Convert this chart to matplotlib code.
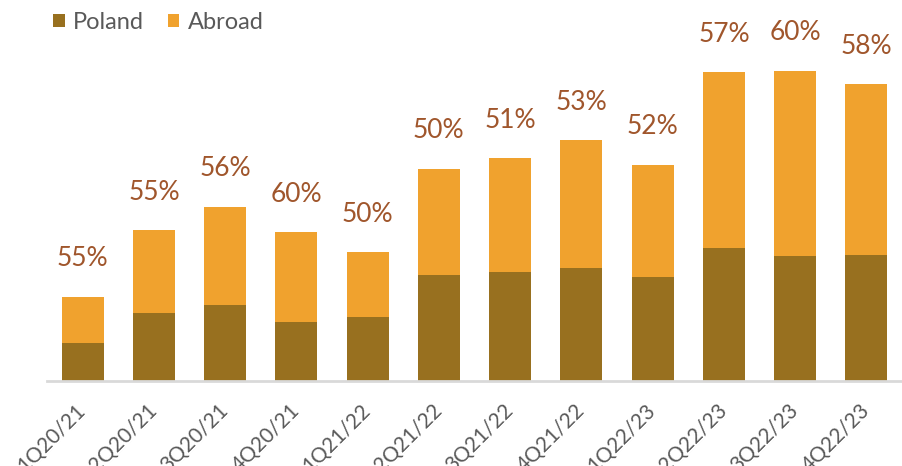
import matplotlib
matplotlib.use("Agg")
import matplotlib.pyplot as plt
import numpy as np

plt.rcParams['font.family'] = ['Lato', 'DejaVu Sans']

# quarters and values
quarters = ['1Q20/21', '2Q20/21', '3Q20/21', '4Q20/21', '1Q21/22', '2Q21/22',
            '3Q21/22', '4Q21/22', '1Q22/23', '2Q22/23', '3Q22/23', '4Q22/23']
poland = [38, 68, 76, 59, 64, 106, 109, 113, 104, 133, 125, 126]
abroad = [46, 83, 98, 90, 65, 106, 114, 128, 112, 176, 185, 171]
share_labels = ['55%', '55%', '56%', '60%', '50%', '50%', '51%', '53%', '52%', '57%', '60%', '58%']

c_pl = '#98701F'
c_ab = '#F0A22E'
c_txt = '#595959'
c_pct = '#A0562C'

fig = plt.figure(figsize=(9.02, 4.66), dpi=100)
ax = fig.add_axes([47/902, 85/466, 1 - 47/902, 381/466])

x = np.arange(len(quarters))
ax.bar(x, poland, width=0.59, color=c_pl, label='Poland')
ax.bar(x, abroad, width=0.59, bottom=poland, color=c_ab, label='Abroad')

totals = np.array(poland) + np.array(abroad)
for xi, t, lab in zip(x, totals, share_labels):
    ax.text(xi, t + 38, lab, ha='center', va='center', fontsize=19, color=c_pct)

ax.set_xlim(-0.5, len(quarters) - 0.5)
ax.set_ylim(0, 381)
ax.set_yticks([])
for s in ['top', 'right', 'left']:
    ax.spines[s].set_visible(False)
ax.spines['bottom'].set_color('#D9D9D9')
ax.spines['bottom'].set_linewidth(2)

ax.set_xticks(x)
ax.set_xticklabels(quarters, rotation=45, ha='right', va='center',
                   rotation_mode='anchor', fontsize=15, color=c_txt)
ax.tick_params(axis='x', length=0, pad=19)

leg = fig.legend(loc='upper left', bbox_to_anchor=(0.035, 1.02), ncol=2, frameon=False,
                 fontsize=17, handlelength=0.5, handleheight=0.5, handletextpad=0.35,
                 columnspacing=1.0)
for t in leg.get_texts():
    t.set_color(c_txt)

fig.savefig('out.png', dpi=100)
